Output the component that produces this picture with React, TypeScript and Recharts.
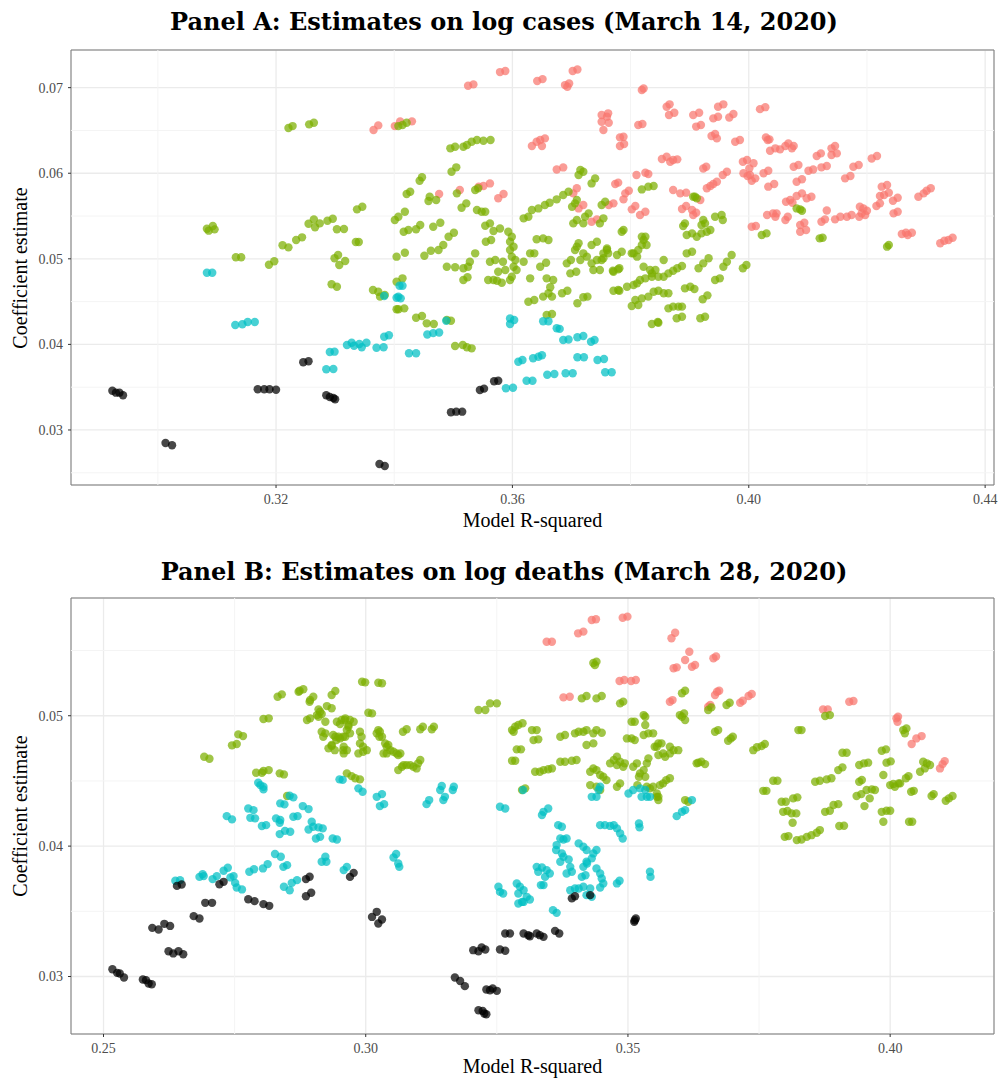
import React from 'react';
import {
  ScatterChart,
  Scatter,
  XAxis,
  YAxis,
  CartesianGrid,
  ReferenceLine,
  ReferenceArea,
} from 'recharts';

type Pt = [number, number];

// Panel A: estimates on log cases (March 14, 2020)
const aXTicks = [0.32, 0.36, 0.40, 0.44];
const aXMinor = [0.30, 0.34, 0.38, 0.42];
const aYTicks = [0.03, 0.04, 0.05, 0.06, 0.07];
const aYMinor = [0.025, 0.035, 0.045, 0.055, 0.065];
const aXDomain: [number, number] = [0.2853, 0.4415];
const aYDomain: [number, number] = [0.02357, 0.0744];

const aRed: Pt[] = [
  [0.3365,0.06505],[0.3373,0.06559],[0.3401,0.06551],[0.3410,0.06606],[0.3430,0.06606],
  [0.3525,0.07022],[0.3534,0.07038],[0.3579,0.07182],[0.3588,0.07194],[0.3642,0.07077],[0.3651,0.07100],
  [0.3689,0.07030],[0.3696,0.07049],[0.3693,0.07010],[0.3702,0.07194],[0.3710,0.07213],
  [0.3633,0.06318],[0.3641,0.06368],[0.3650,0.06318],[0.3655,0.06407],[0.3647,0.06388],
  [0.3675,0.06044],[0.3686,0.06068],
  [0.3751,0.06601],[0.3754,0.06505],[0.3760,0.06661],[0.3763,0.06590],[0.3751,0.06680],[0.3762,0.06700],
  [0.3782,0.06419],[0.3788,0.06427],[0.3782,0.06318],[0.3789,0.06341],[0.3813,0.06563],[0.3820,0.06575],
  [0.3819,0.06972],[0.3822,0.06990],[0.3810,0.05979],[0.3825,0.06006],[0.3830,0.05991],
  [0.3774,0.05874],[0.3779,0.05890],[0.3791,0.05765],[0.3797,0.05796],[0.3788,0.05695],
  [0.3763,0.05629],[0.3771,0.05648],[0.3802,0.05578],[0.3808,0.05617],[0.3816,0.05512],[0.3825,0.05550],
  [0.3709,0.05824],[0.3703,0.05765],[0.3720,0.05629],[0.3712,0.05589],[0.3734,0.05433],[0.3743,0.05461],
  [0.3576,0.05707],[0.3585,0.05757],[0.3543,0.05843],[0.3551,0.05850],[0.3562,0.05881],[0.3511,0.05804],[0.3476,0.05757],
  [0.3861,0.06777],[0.3866,0.06805],[0.3865,0.06680],[0.3874,0.06707],
  [0.3906,0.06680],[0.3916,0.06707],[0.3911,0.06545],[0.3919,0.06563],
  [0.3948,0.06777],[0.3957,0.06805],[0.3940,0.06641],[0.3948,0.06660],[0.3967,0.06652],[0.3974,0.06692],
  [0.3937,0.06435],[0.3946,0.06407],[0.3943,0.06458],[0.3977,0.06368],[0.3985,0.06388],
  [0.4019,0.06749],[0.4028,0.06772],
  [0.3853,0.06166],[0.3861,0.06193],[0.3867,0.06135],[0.3872,0.06154],[0.3879,0.06162],
  [0.3872,0.05804],[0.3884,0.05765],[0.3894,0.05773],
  [0.3887,0.05582],[0.3894,0.05617],[0.3904,0.05570],[0.3906,0.05512],[0.3911,0.05539],[0.3918,0.05687],
  [0.3923,0.06056],[0.3928,0.06076],
  [0.3929,0.05824],[0.3935,0.05850],[0.3940,0.05874],[0.3946,0.05901],[0.3956,0.05979],[0.3963,0.06018],
  [0.3990,0.06135],[0.3997,0.06154],[0.4008,0.06116],[0.3991,0.05999],[0.4002,0.05979],[0.4005,0.05913],[0.4011,0.05940],
  [0.4005,0.05375],[0.4012,0.05383],[0.3998,0.05968],[0.4001,0.06057],
  [0.4025,0.05999],[0.4033,0.06029],[0.4033,0.05843],[0.4043,0.05874],
  [0.4029,0.06419],[0.4035,0.06396],[0.4032,0.06388],
  [0.4036,0.06263],[0.4045,0.06291],[0.4053,0.06279],[0.4062,0.06318],[0.4067,0.06349],[0.4076,0.06318],[0.4073,0.06291],
  [0.4031,0.05512],[0.4041,0.05531],[0.4045,0.05492],[0.4047,0.05531],[0.4062,0.05453],[0.4066,0.05492],
  [0.4063,0.05667],[0.4070,0.05687],[0.4074,0.05655],[0.4081,0.05734],[0.4090,0.05765],[0.4098,0.05707],[0.4106,0.05726],
  [0.4076,0.06076],[0.4084,0.06096],[0.4081,0.05901],[0.4090,0.05929],
  [0.4087,0.05395],[0.4094,0.05422],[0.4087,0.05317],[0.4097,0.05336],
  [0.4101,0.06029],[0.4109,0.06044],[0.4123,0.06069],[0.4132,0.06084],
  [0.4115,0.06201],[0.4122,0.06232],[0.4140,0.06213],[0.4149,0.06232],[0.4140,0.06291],[0.4146,0.06318],
  [0.4123,0.05433],[0.4129,0.05461],[0.4132,0.05565],
  [0.4146,0.05461],[0.4155,0.05492],[0.4166,0.05492],[0.4174,0.05512],
  [0.4163,0.05940],[0.4172,0.05968],[0.4177,0.06076],[0.4186,0.06096],[0.4208,0.06173],[0.4217,0.06201],
  [0.4188,0.05609],[0.4194,0.05589],[0.4191,0.05531],[0.4200,0.05562],[0.4187,0.05492],[0.4197,0.05512],
  [0.4216,0.05617],[0.4222,0.05648],
  [0.4222,0.05734],[0.4229,0.05745],[0.4225,0.05843],[0.4234,0.05862],[0.4237,0.05773],
  [0.4244,0.05679],[0.4252,0.05714],[0.4245,0.05531],[0.4252,0.05550],
  [0.4259,0.05290],[0.4266,0.05305],[0.4269,0.05278],[0.4276,0.05305],
  [0.4287,0.05726],[0.4296,0.05765],[0.4301,0.05796],[0.4308,0.05824],
  [0.4324,0.05181],[0.4331,0.05211],[0.4338,0.05220],[0.4345,0.05247],
];

const aGreen: Pt[] = [
  [0.3083,0.05352],[0.3086,0.05329],[0.3093,0.05383],[0.3096,0.05344],[0.3132,0.05018],[0.3141,0.05018],
  [0.3188,0.04931],[0.3197,0.04971],[0.3211,0.05158],[0.3221,0.05134],[0.3234,0.05220],[0.3244,0.05251],
  [0.3255,0.05410],[0.3264,0.05461],[0.3266,0.05368],[0.3274,0.05414],[0.3287,0.05445],[0.3296,0.05468],
  [0.3221,0.06528],[0.3228,0.06551],[0.3256,0.06571],[0.3264,0.06590],
  [0.3299,0.05006],[0.3305,0.05044],[0.3307,0.04928],[0.3317,0.04974],[0.3294,0.04702],[0.3303,0.04674],
  [0.3303,0.05345],[0.3315,0.05348],[0.3337,0.05578],[0.3346,0.05609],[0.3335,0.05196],[0.3340,0.05196],
  [0.3364,0.04636],[0.3373,0.04616],[0.3376,0.04558],[0.3384,0.04577],
  [0.3401,0.05453],[0.3407,0.05492],[0.3418,0.05550],[0.3404,0.05025],[0.3404,0.04733],[0.3404,0.04410],
  [0.3407,0.06551],[0.3414,0.06563],[0.3421,0.06590],
  [0.3495,0.06291],[0.3503,0.06310],[0.3517,0.06310],[0.3523,0.06330],[0.3531,0.06368],[0.3540,0.06388],[0.3551,0.06380],[0.3563,0.06388],
  [0.3497,0.06018],[0.3505,0.06069],[0.3443,0.05913],[0.3447,0.05953],[0.3506,0.05765],[0.3537,0.05804],[0.3542,0.05824],
  [0.3421,0.05757],[0.3427,0.05784],[0.3458,0.05675],[0.3460,0.05726],[0.3471,0.05687],
  [0.3514,0.05597],[0.3522,0.05648],[0.3540,0.05570],[0.3548,0.05550],[0.3554,0.05550],
  [0.3416,0.05317],[0.3424,0.05336],[0.3437,0.05345],[0.3444,0.05395],[0.3466,0.05375],[0.3478,0.05422],
  [0.3492,0.05258],[0.3501,0.05305],[0.3418,0.05071],[0.3451,0.05036],[0.3462,0.05095],[0.3475,0.05103],[0.3483,0.05161],
  [0.3489,0.04908],[0.3503,0.04901],[0.3517,0.04889],[0.3525,0.04908],[0.3528,0.04966],[0.3537,0.05064],
  [0.3517,0.04752],[0.3524,0.04784],[0.3414,0.04772],[0.3407,0.04410],[0.3417,0.04421],
  [0.3437,0.04312],[0.3447,0.04332],[0.3455,0.04246],[0.3467,0.04238],[0.3489,0.04285],[0.3496,0.04277],
  [0.3503,0.03981],[0.3516,0.03993],[0.3523,0.03966],[0.3531,0.03954],
  [0.3554,0.05386],[0.3562,0.05414],[0.3568,0.05325],[0.3579,0.05355],[0.3555,0.05200],[0.3564,0.05220],
  [0.3562,0.04966],[0.3571,0.04986],[0.3584,0.04966],[0.3559,0.04752],[0.3568,0.04752],[0.3574,0.04744],[0.3582,0.04721],
  [0.3576,0.04849],[0.3588,0.04869],
  [0.3593,0.05317],[0.3599,0.05258],[0.3596,0.05200],[0.3602,0.05142],[0.3596,0.05103],[0.3599,0.05025],
  [0.3605,0.04986],[0.3602,0.04908],[0.3607,0.04869],[0.3599,0.04791],[0.3596,0.04752],
  [0.3619,0.04966],[0.3619,0.05473],[0.3627,0.05492],[0.3633,0.05570],[0.3644,0.05589],
  [0.3655,0.05629],[0.3663,0.05655],[0.3675,0.05695],[0.3686,0.05745],[0.3695,0.05784],
  [0.3630,0.05064],[0.3637,0.05064],[0.3641,0.05228],[0.3652,0.05239],[0.3661,0.05220],[0.3647,0.04908],[0.3657,0.04954],
  [0.3630,0.04772],[0.3627,0.04499],[0.3637,0.04519],
  [0.3658,0.04772],[0.3669,0.04752],[0.3664,0.04667],[0.3661,0.04597],[0.3652,0.04558],[0.3667,0.04558],
  [0.3658,0.04343],[0.3667,0.04355],[0.3684,0.04597],[0.3693,0.04627],
  [0.3692,0.04947],[0.3699,0.04986],[0.3709,0.05142],[0.3712,0.05181],[0.3706,0.05103],[0.3698,0.04830],[0.3708,0.04849],
  [0.3710,0.04480],[0.3720,0.04550],[0.3727,0.04558],[0.3715,0.04986],[0.3726,0.05025],[0.3720,0.05064],
  [0.3734,0.05161],[0.3743,0.05200],[0.3734,0.04947],[0.3743,0.04986],[0.3754,0.05006],[0.3737,0.04869],[0.3748,0.04869],
  [0.3760,0.05122],[0.3762,0.05064],[0.3770,0.04861],[0.3781,0.04889],[0.3771,0.04627],[0.3781,0.04627],
  [0.3794,0.04674],[0.3805,0.04694],[0.3808,0.04519],[0.3819,0.04538],[0.3830,0.04558],[0.3802,0.04449],[0.3813,0.04460],
  [0.3836,0.04238],[0.3847,0.04253],[0.3805,0.05064],[0.3813,0.05103],[0.3819,0.05161],[0.3822,0.05220],
  [0.3819,0.05258],[0.3825,0.05258],[0.3785,0.05317],[0.3788,0.05336],[0.3819,0.05811],[0.3830,0.05843],[0.3839,0.05850],
  [0.3712,0.05979],[0.3720,0.06018],[0.3715,0.06037],[0.3734,0.05881],[0.3740,0.05940],[0.3751,0.05629],[0.3757,0.05667],
  [0.3822,0.04908],[0.3833,0.04869],[0.3836,0.04830],[0.3842,0.04869],[0.3847,0.04791],[0.3816,0.04752],[0.3825,0.04772],[0.3836,0.04791],
  [0.3856,0.04986],[0.3856,0.04791],[0.3856,0.04597],
  [0.3906,0.05726],[0.3909,0.05726],[0.3912,0.05707],[0.3892,0.05414],[0.3889,0.05383],[0.3923,0.05453],[0.3926,0.05414],[0.3920,0.05395],
  [0.3943,0.05492],[0.3954,0.05512],[0.3956,0.05453],
  [0.3895,0.05278],[0.3904,0.05297],[0.3912,0.05258],[0.3920,0.05297],[0.3929,0.05317],[0.3935,0.05336],[0.3895,0.05064],[0.3904,0.05083],
  [0.3915,0.04889],[0.3923,0.04947],[0.3932,0.05006],[0.3957,0.04908],[0.3963,0.04966],[0.3971,0.05044],[0.3990,0.04889],[0.3996,0.04928],
  [0.3943,0.04752],[0.3951,0.04772],[0.3892,0.04655],[0.3901,0.04674],[0.3908,0.04647],[0.3922,0.04527],[0.3930,0.04573],
  [0.3918,0.04305],[0.3926,0.04323],[0.3864,0.04421],[0.3872,0.04441],[0.3881,0.04441],[0.3887,0.04441],[0.3878,0.04305],[0.3887,0.04323],
  [0.3864,0.04830],[0.3872,0.04861],[0.3879,0.04889],[0.3887,0.04916],[0.3839,0.04616],[0.3847,0.04627],[0.3864,0.04597],[0.3846,0.04262],
  [0.3779,0.04636],[0.3811,0.04713],[0.3827,0.05161],[0.3811,0.05025],[0.3802,0.05064],[0.3771,0.04849],[0.3779,0.04877],
  [0.3754,0.05064],[0.3760,0.05103],[0.3751,0.04986],[0.3777,0.05044],[0.3785,0.05083],
  [0.3706,0.05648],[0.3709,0.05687],[0.3701,0.05609],[0.3723,0.05492],[0.3729,0.05531],[0.3720,0.05414],[0.3709,0.05453],[0.3703,0.05414],
  [0.3748,0.05414],[0.3754,0.05473],[0.4022,0.05278],[0.4030,0.05297],
  [0.4081,0.05589],[0.4087,0.05578],[0.4090,0.05562],[0.4120,0.05239],[0.4125,0.05247],[0.4234,0.05142],[0.4237,0.05161],
];

const aCyan: Pt[] = [
  [0.3083,0.04838],[0.3092,0.04838],[0.3131,0.04227],[0.3143,0.04235],[0.3152,0.04262],[0.3164,0.04262],
  [0.3291,0.03911],[0.3299,0.03915],[0.3285,0.03709],[0.3297,0.03713],
  [0.3320,0.03993],[0.3328,0.04020],[0.3332,0.03985],[0.3341,0.04005],[0.3345,0.03966],[0.3353,0.04020],
  [0.3370,0.03961],[0.3382,0.03966],[0.3383,0.04090],[0.3391,0.04106],[0.3425,0.03896],[0.3437,0.03896],
  [0.3409,0.04686],[0.3414,0.04686],[0.3407,0.04557],[0.3411,0.04538],[0.3404,0.04545],[0.3383,0.04565],
  [0.3456,0.04116],[0.3466,0.04132],[0.3476,0.04139],[0.3488,0.04277],
  [0.3596,0.04303],[0.3596,0.04238],[0.3603,0.04285],[0.3652,0.04270],[0.3661,0.04270],[0.3675,0.04188],[0.3680,0.04181],
  [0.3686,0.04051],[0.3695,0.04058],[0.3710,0.04083],[0.3720,0.04098],[0.3733,0.04031],[0.3739,0.04051],
  [0.3610,0.03798],[0.3617,0.03818],[0.3635,0.03838],[0.3644,0.03856],[0.3650,0.03873],
  [0.3710,0.03850],[0.3721,0.03850],[0.3744,0.03818],[0.3755,0.03829],
  [0.3589,0.03487],[0.3601,0.03494],[0.3624,0.03576],[0.3634,0.03576],[0.3659,0.03646],[0.3671,0.03654],
  [0.3690,0.03663],[0.3702,0.03663],[0.3757,0.03674],[0.3768,0.03674],
];

const aBlack: Pt[] = [
  [0.2923,0.03459],[0.2929,0.03436],[0.2935,0.03436],[0.2941,0.03405],[0.3013,0.02848],[0.3024,0.02821],
  [0.3169,0.03475],[0.3180,0.03475],[0.3189,0.03475],[0.3200,0.03470],[0.3246,0.03791],[0.3255,0.03803],
  [0.3285,0.03405],[0.3291,0.03386],[0.3297,0.03374],[0.3300,0.03359],[0.3375,0.02603],[0.3384,0.02579],
  [0.3496,0.03207],[0.3505,0.03214],[0.3515,0.03214],[0.3545,0.03467],[0.3552,0.03483],[0.3569,0.03569],[0.3576,0.03576],
];

// Panel B: estimates on log deaths (March 28, 2020)
const bXTicks = [0.25, 0.30, 0.35, 0.40];
const bXMinor = [0.275, 0.325, 0.375];
const bYTicks = [0.03, 0.04, 0.05];
const bYMinor = [0.035, 0.045, 0.055];
const bXDomain: [number, number] = [0.2438, 0.4198];
const bYDomain: [number, number] = [0.02559, 0.05903];

const bRed: Pt[] = [
  [0.3345,0.05568],[0.3355,0.05568],[0.3405,0.05632],[0.3415,0.05645],[0.3431,0.05734],[0.3439,0.05740],
  [0.3490,0.05752],[0.3499,0.05760],[0.3377,0.05141],[0.3389,0.05146],
  [0.3484,0.05266],[0.3493,0.05274],[0.3506,0.05266],[0.3515,0.05274],
  [0.3583,0.05594],[0.3590,0.05637],[0.3609,0.05427],[0.3617,0.05491],[0.3587,0.05364],[0.3593,0.05371],
  [0.3622,0.05376],[0.3628,0.05389],[0.3663,0.05441],[0.3668,0.05454],[0.3580,0.05107],[0.3585,0.05120],
  [0.3653,0.05069],[0.3657,0.05082],[0.3666,0.05159],[0.3670,0.05184],[0.3674,0.05192],
  [0.3714,0.05100],[0.3719,0.05115],[0.3730,0.05151],[0.3736,0.05167],
  [0.3872,0.05049],[0.3881,0.05049],[0.3922,0.05107],[0.3930,0.05113],
  [0.4012,0.04980],[0.4014,0.04954],[0.4015,0.04992],[0.4041,0.04783],[0.4050,0.04826],[0.4060,0.04844],
  [0.4095,0.04596],[0.4100,0.04629],[0.4104,0.04652],
];

const bGreen: Pt[] = [
  [0.2692,0.04686],[0.2702,0.04670],[0.2745,0.04773],[0.2754,0.04783],[0.2757,0.04857],[0.2766,0.04844],
  [0.2805,0.04975],[0.2815,0.04980],[0.2791,0.04563],[0.2802,0.04563],[0.2805,0.04576],[0.2815,0.04583],
  [0.2836,0.04558],[0.2844,0.04550],[0.2832,0.05146],[0.2840,0.05164],[0.2874,0.05192],[0.2881,0.05203],
  [0.2894,0.05121],[0.2900,0.05146],[0.2888,0.04967],[0.2894,0.04980],[0.2910,0.04992],[0.2916,0.05013],[0.2923,0.04954],
  [0.2935,0.05159],[0.2942,0.05190],[0.2916,0.04877],[0.2923,0.04865],[0.2919,0.04839],[0.2929,0.04750],[0.2935,0.04768],
  [0.2926,0.05074],[0.2935,0.05057],[0.2945,0.04954],[0.2942,0.04839],[0.2850,0.04384],
  [0.2872,0.05184],[0.2893,0.05107],[0.2913,0.05031],[0.2907,0.05005],[0.2910,0.05049],
  [0.2993,0.05261],[0.2999,0.05256],[0.3024,0.05253],[0.3031,0.05249],[0.3005,0.05023],[0.3012,0.05018],
  [0.2938,0.04852],[0.2944,0.04813],[0.2935,0.04775],[0.2941,0.04736],[0.2951,0.04936],[0.2960,0.04967],[0.2967,0.04929],
  [0.2970,0.04967],[0.2964,0.04890],[0.2957,0.04839],[0.2951,0.04826],[0.2957,0.04736],[0.2964,0.04736],
  [0.2989,0.04877],[0.2992,0.04839],[0.2989,0.04788],[0.2995,0.04762],[0.3002,0.04736],[0.2986,0.04711],[0.2995,0.04724],
  [0.3021,0.04865],[0.3027,0.04877],[0.3031,0.04839],[0.3040,0.04762],[0.3047,0.04736],[0.3053,0.04724],[0.3059,0.04711],[0.3066,0.04711],[0.3040,0.04711],
  [0.3062,0.04583],[0.3069,0.04609],[0.3072,0.04621],[0.3078,0.04621],[0.3085,0.04621],[0.3091,0.04609],[0.3097,0.04596],[0.3100,0.04635],[0.3104,0.04660],
  [0.3071,0.04877],[0.3078,0.04896],[0.3104,0.04896],[0.3109,0.04916],
  [0.2964,0.04558],[0.2973,0.04537],[0.2980,0.04520],[0.2989,0.04512],
  [0.2954,0.04967],[0.2961,0.04980],[0.2977,0.04954],[0.2967,0.04916],[0.2948,0.04839],[0.2961,0.04839],[0.2970,0.04865],[0.2958,0.04762],[0.2958,0.04711],
  [0.3024,0.04890],[0.3026,0.04839],[0.3037,0.04788],[0.3043,0.04775],[0.3034,0.04711],[0.3062,0.04698],[0.3126,0.04896],[0.3130,0.04916],
  [0.3215,0.05044],[0.3228,0.05044],[0.3237,0.05095],[0.3250,0.05095],
  [0.3279,0.04890],[0.3285,0.04916],[0.3291,0.04929],[0.3299,0.04942],[0.3282,0.04877],[0.3279,0.04655],[0.3285,0.04655],
  [0.3288,0.04742],[0.3296,0.04742],[0.3298,0.04430],[0.3304,0.04443],
  [0.3317,0.04890],[0.3326,0.04890],[0.3320,0.04813],[0.3329,0.04819],
  [0.3323,0.04570],[0.3332,0.04570],[0.3339,0.04583],[0.3348,0.04589],[0.3355,0.04596],
  [0.3371,0.04647],[0.3380,0.04647],[0.3393,0.04655],[0.3402,0.04660],
  [0.3371,0.04839],[0.3380,0.04852],[0.3399,0.04865],[0.3406,0.04877],[0.3415,0.04877],[0.3421,0.04890],[0.3434,0.04865],[0.3440,0.04890],[0.3450,0.04870],
  [0.3421,0.04775],[0.3434,0.04788],[0.3412,0.05133],[0.3421,0.05151],[0.3440,0.05133],[0.3450,0.05151],
  [0.3434,0.05405],[0.3440,0.05415],[0.3437,0.05388],[0.3485,0.05095],[0.3491,0.05108],
  [0.3498,0.04826],[0.3507,0.04826],[0.3513,0.04813],[0.3507,0.04954],[0.3513,0.04954],
  [0.3530,0.05005],[0.3533,0.04992],[0.3533,0.04929],[0.3530,0.04852],[0.3539,0.04865],[0.3548,0.04865],
  [0.3558,0.04788],[0.3551,0.04762],[0.3558,0.04698],[0.3567,0.04711],
  [0.3428,0.04570],[0.3434,0.04596],[0.3440,0.04583],[0.3447,0.04545],[0.3453,0.04532],[0.3459,0.04506],
  [0.3466,0.04635],[0.3473,0.04660],[0.3479,0.04686],[0.3485,0.04647],[0.3479,0.04622],[0.3491,0.04609],[0.3494,0.04635],
  [0.3428,0.04468],[0.3440,0.04455],[0.3447,0.04430],[0.3479,0.04455],[0.3485,0.04481],
  [0.3510,0.04609],[0.3517,0.04635],[0.3523,0.04558],[0.3530,0.04583],[0.3536,0.04635],[0.3539,0.04673],[0.3533,0.04532],[0.3542,0.04443],[0.3548,0.04455],
  [0.3558,0.04378],[0.3555,0.04404],[0.3603,0.05172],[0.3609,0.05192],
  [0.3599,0.05005],[0.3607,0.05018],[0.3609,0.04967],[0.3603,0.04992],[0.3631,0.04635],[0.3609,0.04353],[0.3615,0.04340],
  [0.3555,0.04762],[0.3564,0.04788],[0.3580,0.04762],[0.3587,0.04736],[0.3596,0.04736],[0.3571,0.04686],[0.3580,0.04711],
  [0.3521,0.04532],[0.3518,0.04468],[0.3536,0.04455],[0.3561,0.04468],[0.3567,0.04481],[0.3573,0.04506],[0.3580,0.04520],
  [0.3555,0.04378],[0.3558,0.04353],
  [0.3653,0.05044],[0.3659,0.05064],[0.3688,0.05082],[0.3694,0.05100],[0.3666,0.04877],[0.3672,0.04890],
  [0.3691,0.04808],[0.3696,0.04826],[0.3700,0.04839],[0.3739,0.04736],[0.3746,0.04758],[0.3755,0.04767],[0.3761,0.04783],
  [0.3634,0.04640],[0.3640,0.04647],[0.3647,0.04629],[0.3758,0.04424],[0.3764,0.04424],[0.3777,0.04501],[0.3785,0.04501],
  [0.3793,0.04340],[0.3801,0.04340],[0.3796,0.04263],[0.3804,0.04269],[0.3815,0.04366],[0.3823,0.04374],[0.3812,0.04251],[0.3821,0.04251],[0.3814,0.04179],
  [0.3799,0.04071],[0.3806,0.04077],[0.3822,0.04046],[0.3831,0.04051],[0.3841,0.04071],[0.3850,0.04084],[0.3860,0.04102],[0.3866,0.04123],
  [0.3825,0.04890],[0.3831,0.04890],[0.3857,0.04494],[0.3866,0.04501],[0.3879,0.04512],[0.3888,0.04520],
  [0.3876,0.04263],[0.3885,0.04271],[0.3892,0.04315],[0.3901,0.04322],[0.3876,0.04998],[0.3885,0.05005],
  [0.3903,0.04154],[0.3912,0.04156],[0.3901,0.04583],[0.3909,0.04604],[0.3909,0.04716],[0.3917,0.04716],
  [0.3941,0.04622],[0.3950,0.04635],[0.3958,0.04640],[0.3941,0.04494],[0.3946,0.04507],
  [0.3936,0.04384],[0.3945,0.04399],[0.3955,0.04430],[0.3965,0.04435],[0.3971,0.04430],[0.3961,0.04366],[0.3951,0.04307],
  [0.3984,0.04731],[0.3992,0.04742],[0.3993,0.04640],[0.4001,0.04650],[0.3987,0.04545],
  [0.4000,0.04468],[0.4006,0.04476],[0.4016,0.04481],[0.4019,0.04481],[0.4009,0.04455],
  [0.3984,0.04263],[0.3993,0.04271],[0.4000,0.04271],[0.3987,0.04187],
  [0.4030,0.04520],[0.4035,0.04537],[0.4040,0.04417],[0.4045,0.04424],[0.4036,0.04187],[0.4042,0.04187],
  [0.4025,0.04890],[0.4028,0.04865],[0.4031,0.04903],
  [0.4057,0.04570],[0.4066,0.04596],[0.4063,0.04647],[0.4070,0.04635],[0.4076,0.04622],
  [0.4079,0.04384],[0.4083,0.04399],[0.4106,0.04348],[0.4112,0.04366],[0.4119,0.04384],
];

const bCyan: Pt[] = [
  [0.2637,0.03734],[0.2646,0.03739],[0.2683,0.03764],[0.2689,0.03785],[0.2691,0.03770],[0.2708,0.03747],[0.2716,0.03770],
  [0.2729,0.03811],[0.2737,0.03834],[0.2742,0.03760],[0.2748,0.03770],[0.2751,0.03718],[0.2754,0.03683],[0.2764,0.03668],
  [0.2778,0.03803],[0.2787,0.03823],[0.2804,0.03829],[0.2813,0.03862],[0.2827,0.03939],[0.2838,0.03918],
  [0.2843,0.03841],[0.2850,0.03854],[0.2844,0.03688],[0.2855,0.03662],[0.2859,0.03718],[0.2869,0.03739],
  [0.2916,0.03880],[0.2923,0.03918],[0.2925,0.03880],[0.2735,0.04230],[0.2745,0.04205],
  [0.2776,0.04289],[0.2786,0.04276],[0.2780,0.04217],[0.2789,0.04213],
  [0.2795,0.04486],[0.2805,0.04455],[0.2799,0.04468],[0.2805,0.04435],[0.2802,0.04154],[0.2810,0.04161],
  [0.2829,0.04213],[0.2837,0.04200],[0.2836,0.04179],[0.2837,0.04328],[0.2845,0.04320],[0.2855,0.04386],[0.2862,0.04374],
  [0.2836,0.04092],[0.2846,0.04117],[0.2856,0.04110],[0.2862,0.04225],[0.2870,0.04230],[0.2880,0.04307],[0.2891,0.04284],
  [0.2891,0.04128],[0.2897,0.04187],[0.2900,0.04148],[0.2910,0.04144],[0.2918,0.04136],[0.2905,0.04059],[0.2913,0.04071],
  [0.2937,0.04059],[0.2945,0.04051],[0.2950,0.04512],[0.2956,0.04508],[0.2986,0.04443],[0.2994,0.04417],
  [0.3021,0.04378],[0.3031,0.04399],[0.3027,0.04307],[0.3035,0.04322],
  [0.3058,0.03939],[0.3064,0.03841],[0.3053,0.03913],[0.3062,0.03867],[0.3116,0.04322],[0.3121,0.04353],
  [0.2958,0.03816],[0.2964,0.03841],
  [0.3145,0.04461],[0.3142,0.04430],[0.3148,0.04353],[0.3151,0.04378],[0.3166,0.04430],[0.3168,0.04455],
  [0.3256,0.04302],[0.3266,0.04289],[0.3253,0.03688],[0.3256,0.03649],[0.3262,0.03637],
  [0.3288,0.03714],[0.3294,0.03688],[0.3291,0.03637],[0.3301,0.03662],[0.3298,0.03572],[0.3307,0.03611],[0.3313,0.03591],
  [0.3291,0.03560],[0.3301,0.03572],
  [0.3326,0.03841],[0.3336,0.03836],[0.3345,0.03816],[0.3351,0.03790],[0.3329,0.03803],[0.3342,0.03764],[0.3339,0.03701],[0.3334,0.03701],
  [0.3339,0.04263],[0.3348,0.04289],[0.3336,0.04238],[0.3367,0.04161],[0.3374,0.04148],
  [0.3364,0.04008],[0.3371,0.04059],[0.3377,0.04051],[0.3383,0.04059],[0.3363,0.03970],[0.3374,0.03944],
  [0.3377,0.03918],[0.3371,0.03880],[0.3387,0.03898],[0.3390,0.03841],[0.3383,0.03790],[0.3393,0.03803],
  [0.3406,0.04021],[0.3415,0.03995],[0.3421,0.03970],[0.3434,0.03944],[0.3440,0.03970],[0.3431,0.03906],
  [0.3421,0.03880],[0.3440,0.03829],[0.3447,0.03790],[0.3450,0.03752],[0.3453,0.03714],[0.3447,0.03683],
  [0.3415,0.03841],[0.3422,0.03867],[0.3412,0.03764],[0.3419,0.03777],
  [0.3390,0.03662],[0.3399,0.03675],[0.3406,0.03675],[0.3415,0.03688],[0.3421,0.03624],[0.3431,0.03611],[0.3428,0.03675],
  [0.3357,0.03509],[0.3364,0.03488],
  [0.3447,0.04161],[0.3456,0.04161],[0.3466,0.04155],[0.3473,0.04161],[0.3479,0.04136],[0.3485,0.04098],[0.3490,0.04059],
  [0.3479,0.03714],[0.3484,0.03734],[0.3521,0.04174],[0.3522,0.04144],[0.3542,0.03803],[0.3543,0.03764],
  [0.3501,0.04404],[0.3510,0.04430],[0.3523,0.04443],[0.3533,0.04430],[0.3526,0.04378],[0.3536,0.04378],[0.3542,0.04378],
  [0.3431,0.04378],[0.3440,0.04378],[0.3447,0.04455],[0.3444,0.04430],[0.3300,0.04430],
  [0.3593,0.04230],[0.3603,0.04263],[0.3609,0.04276],[0.3622,0.04353],
];

const bBlack: Pt[] = [
  [0.2517,0.03056],[0.2526,0.03028],[0.2531,0.03023],[0.2539,0.02992],[0.2575,0.02977],[0.2581,0.02972],[0.2586,0.02946],[0.2592,0.02941],
  [0.2593,0.03373],[0.2605,0.03361],[0.2616,0.03404],[0.2627,0.03388],
  [0.2624,0.03194],[0.2633,0.03177],[0.2643,0.03194],[0.2652,0.03171],[0.2640,0.03695],[0.2649,0.03706],
  [0.2672,0.03463],[0.2683,0.03445],[0.2694,0.03565],[0.2707,0.03565],[0.2721,0.03708],[0.2729,0.03726],
  [0.2776,0.03593],[0.2788,0.03578],[0.2805,0.03555],[0.2816,0.03542],
  [0.2886,0.03747],[0.2893,0.03765],[0.2886,0.03616],[0.2896,0.03642],[0.2970,0.03764],[0.2977,0.03795],
  [0.3012,0.03457],[0.3021,0.03496],[0.3024,0.03407],[0.3031,0.03437],
  [0.3170,0.02992],[0.3180,0.02966],[0.3189,0.02926],
  [0.3205,0.03202],[0.3215,0.03194],[0.3221,0.03223],[0.3228,0.03207],[0.3256,0.03207],[0.3266,0.03197],
  [0.3230,0.02900],[0.3237,0.02895],[0.3242,0.02908],[0.3250,0.02890],
  [0.3215,0.02741],[0.3223,0.02736],[0.3226,0.02716],[0.3230,0.02711],
  [0.3266,0.03330],[0.3275,0.03330],[0.3301,0.03330],[0.3310,0.03317],[0.3313,0.03309],[0.3326,0.03330],[0.3332,0.03317],[0.3339,0.03304],
  [0.3361,0.03350],[0.3369,0.03330],[0.3393,0.03599],[0.3399,0.03616],[0.3428,0.03624],
  [0.3513,0.03432],[0.3515,0.03445],[0.3512,0.03419],
];

const COLORS = { red: '#F8766D', green: '#7CAE00', cyan: '#00BFC4', black: '#000000' };
const FONT = '"Liberation Serif", "Times New Roman", serif';
const TITLE_FONT = '"DejaVu Serif", "Liberation Serif", serif';

const toPts = (arr: Pt[]) => arr.map(([x, y]) => ({ x, y }));

const dot = (color: string) => (props: any) => (
  <circle cx={props.cx} cy={props.cy} r={4.2} fill={color} fillOpacity={0.72} stroke="none" />
);

type PanelProps = {
  top: number;
  height: number;
  marginTop: number;
  marginBottom: number;
  xDomain: [number, number];
  yDomain: [number, number];
  xTicks: number[];
  yTicks: number[];
  xMinor: number[];
  yMinor: number[];
  groups: Array<{ name: string; pts: Pt[]; color: string }>;
};

function Panel(p: PanelProps) {
  return (
    <div style={{ position: 'absolute', left: 0, top: p.top, width: 1000, height: p.height }}>
      <ScatterChart
        width={1000}
        height={p.height}
        margin={{ top: p.marginTop, right: 6, bottom: p.marginBottom, left: 0 }}
      >
        <CartesianGrid stroke="#EBEBEB" strokeWidth={1.3} />
        {p.xMinor.map((v) => (
          <ReferenceLine key={'xm' + v} x={v} stroke="#F4F4F4" strokeWidth={1} />
        ))}
        {p.yMinor.map((v) => (
          <ReferenceLine key={'ym' + v} y={v} stroke="#F4F4F4" strokeWidth={1} />
        ))}
        <XAxis
          type="number"
          dataKey="x"
          domain={p.xDomain}
          allowDataOverflow
          ticks={p.xTicks}
          tickFormatter={(v) => Number(v).toFixed(2)}
          axisLine={false}
          tickLine={{ stroke: '#333333' }}
          tickSize={3}
          tickMargin={6}
          height={30}
          tick={{ fill: '#4D4D4D', fontSize: 14, fontFamily: FONT }}
        />
        <YAxis
          type="number"
          dataKey="y"
          domain={p.yDomain}
          allowDataOverflow
          ticks={p.yTicks}
          tickFormatter={(v) => Number(v).toFixed(2)}
          axisLine={false}
          tickLine={{ stroke: '#333333' }}
          tickSize={3}
          tickMargin={5}
          width={71}
          tick={{ fill: '#4D4D4D', fontSize: 14, fontFamily: FONT }}
        />
        {p.groups.map((g) => (
          <Scatter
            key={g.name}
            name={g.name}
            data={toPts(g.pts)}
            shape={dot(g.color)}
            isAnimationActive={false}
          />
        ))}
        <ReferenceArea
          x1={p.xDomain[0]}
          x2={p.xDomain[1]}
          y1={p.yDomain[0]}
          y2={p.yDomain[1]}
          fill="none"
          fillOpacity={0}
          stroke="#7a7a7a"
          strokeWidth={1}
          ifOverflow="visible"
        />
      </ScatterChart>
    </div>
  );
}

const titleStyle: React.CSSProperties = {
  position: 'absolute',
  left: 0,
  width: 1008,
  textAlign: 'center',
  fontFamily: TITLE_FONT,
  fontWeight: 'bold',
  fontSize: 24,
  lineHeight: '30px',
  color: '#000',
  whiteSpace: 'nowrap',
};

const xLabelStyle: React.CSSProperties = {
  position: 'absolute',
  left: 71,
  width: 923,
  textAlign: 'center',
  fontFamily: FONT,
  fontSize: 20,
  lineHeight: '20px',
  color: '#000',
};

const yLabelStyle = (cy: number): React.CSSProperties => ({
  position: 'absolute',
  left: 20 - 150,
  top: cy - 11,
  width: 300,
  height: 22,
  lineHeight: '22px',
  textAlign: 'center',
  fontFamily: FONT,
  fontSize: 20,
  color: '#000',
  transform: 'rotate(-90deg)',
});

export default function App() {
  return (
    <div style={{ position: 'absolute', left: 0, top: 0, width: 1000, height: 1078, background: '#fff', overflow: 'hidden' }}>
      <div style={{ ...titleStyle, top: 7 }}>Panel A: Estimates on log cases (March 14, 2020)</div>
      <Panel
        top={0}
        height={540}
        marginTop={50}
        marginBottom={25}
        xDomain={aXDomain}
        yDomain={aYDomain}
        xTicks={aXTicks}
        yTicks={aYTicks}
        xMinor={aXMinor}
        yMinor={aYMinor}
        groups={[
          { name: 'a-red', pts: aRed, color: COLORS.red },
          { name: 'a-green', pts: aGreen, color: COLORS.green },
          { name: 'a-cyan', pts: aCyan, color: COLORS.cyan },
          { name: 'a-black', pts: aBlack, color: COLORS.black },
        ]}
      />
      <div style={{ ...xLabelStyle, top: 510 }}>Model R-squared</div>
      <div style={yLabelStyle(267.5)}>Coefficient estimate</div>

      <div style={{ ...titleStyle, top: 557 }}>Panel B: Estimates on log deaths (March 28, 2020)</div>
      <Panel
        top={550}
        height={528}
        marginTop={48}
        marginBottom={14}
        xDomain={bXDomain}
        yDomain={bYDomain}
        xTicks={bXTicks}
        yTicks={bYTicks}
        xMinor={bXMinor}
        yMinor={bYMinor}
        groups={[
          { name: 'b-red', pts: bRed, color: COLORS.red },
          { name: 'b-green', pts: bGreen, color: COLORS.green },
          { name: 'b-cyan', pts: bCyan, color: COLORS.cyan },
          { name: 'b-black', pts: bBlack, color: COLORS.black },
        ]}
      />
      <div style={{ ...xLabelStyle, top: 1056 }}>Model R-squared</div>
      <div style={yLabelStyle(816)}>Coefficient estimate</div>
    </div>
  );
}
